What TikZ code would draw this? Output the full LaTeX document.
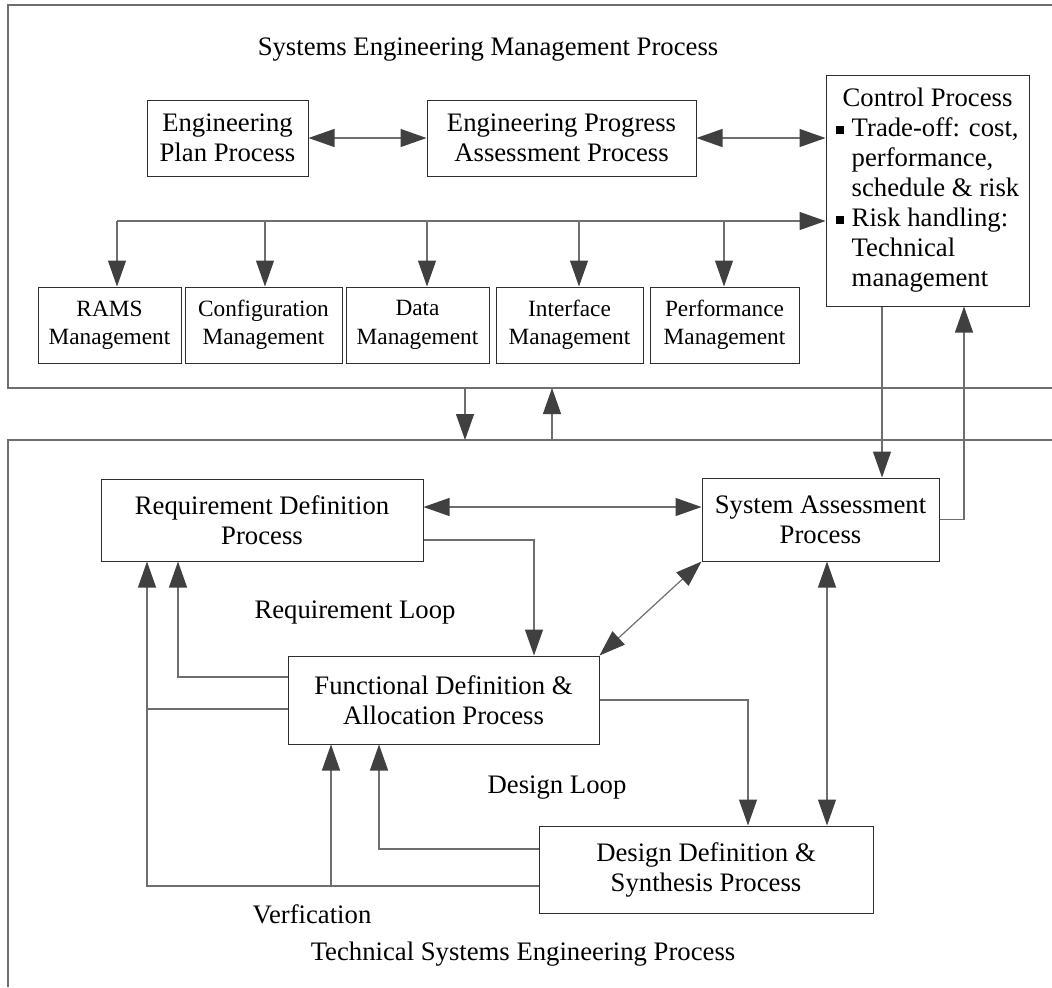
\documentclass[tikz,border=0pt]{standalone}
\usepackage{fontspec}
\setmainfont{Liberation Serif}
\usetikzlibrary{arrows.meta}
\definecolor{linec}{HTML}{6E6E6E}
\definecolor{boxc}{HTML}{2E2E2E}
\definecolor{arrc}{HTML}{404040}
\newcommand{\bulsq}{\raisebox{0.22ex}{\rule{0.3em}{0.3em}}}
\begin{document}
\begin{tikzpicture}[x=0.5pt,y=-0.5pt,
  every node/.style={font=\fontsize{13.35pt}{15pt}\selectfont},
  box/.style={draw=boxc, line width=0.5pt, inner sep=0pt, align=center},
  mgmt/.style={box, minimum height=38pt, font=\fontsize{11.65pt}{14.2pt}\selectfont},
  conn/.style={draw=linec, line width=0.6pt},
  frame/.style={draw=linec, line width=0.7pt},
  >={Triangle[length=13pt,width=9pt,color=arrc]}]
\useasboundingbox (0,0) rectangle (1052,987);

% two process frames, open to the right
\draw[frame] (1052,5) -- (8,5) -- (8,388) -- (1052,388);
\draw[frame] (1052,440) -- (8,440) -- (8,987);
\coordinate (mgmtB) at (8,388);
\coordinate (techT) at (8,440);

% management process boxes
\node[box, minimum width=80.5pt, minimum height=38pt] (epp) at (227.5,138) {Engineering\\Plan Process};
\node[box, minimum width=134.5pt, minimum height=38pt] (epa) at (561.5,138) {Engineering Progress\\Assessment Process};
\node[box, minimum width=101.5pt, minimum height=115.5pt] (ctrl) at (927.5,190.5) {%
  \begin{tabular}{@{}l@{\hspace{0.3em}}l@{}}
  \multicolumn{2}{@{}c@{}}{Control Process}\\
  \bulsq & Trade-off: cost,\\
         & performance,\\
         & schedule \& risk\\
  \bulsq & Risk handling:\\
         & Technical\\
         & management
  \end{tabular}};
\node[mgmt, minimum width=71.5pt] (rams) at (109.5,325) {RAMS\\Management};
\node[mgmt, minimum width=78.5pt] (conf) at (263.5,325) {Configuration\\Management};
\node[mgmt, minimum width=71.5pt] (data) at (417.5,325) {Data\\Management};
\node[mgmt, minimum width=73.5pt] (intf) at (569.5,325) {Interface\\Management};
\node[mgmt, minimum width=74.5pt] (perf) at (724.5,325) {Performance\\Management};

% technical process boxes
\node[box, minimum width=161pt, minimum height=41pt] (rd) at (262,520) {Requirement Definition\\Process};
\node[box, minimum width=118.5pt, minimum height=41.5pt] (sa) at (820.5,519.5) {System Assessment\\Process};
\node[box, minimum width=155.5pt, minimum height=44pt] (fd) at (443.5,700) {Functional Definition \&\\Allocation Process};
\node[box, minimum width=167pt, minimum height=43.5pt] (dd) at (706,869.5) {Design Definition \&\\Synthesis Process};

% labels
\node[anchor=base] (tmgmt) at (488,55) {Systems Engineering Management Process};
\node[anchor=base] (lreq) at (355,618) {Requirement Loop};
\node[anchor=base] (ldes) at (557,793) {Design Loop};
\node[anchor=base] (lver) at (312,923) {Verfication};
\node[anchor=base] (ttech) at (523,960) {Technical Systems Engineering Process};

% management connectors
\draw[conn,<->] (epp) -- (epa);
\draw[conn,<->] (epa.east) -- (epa.east -| ctrl.west);
\foreach \x/\n in {117/rams,265/conf,427/data,579/intf,724/perf}{
  \coordinate (d\n) at (\x,221);
  \draw[conn,->] (d\n) -- (d\n |- \n.north);
}
\draw[conn,->] (drams) -- (drams -| ctrl.west);

% between the frames
\coordinate (dn) at (465,388);
\coordinate (up) at (552,440);
\draw[conn,->] (dn) -- (dn |- techT);
\draw[conn,->] (up) -- (up |- mgmtB);

% control <-> system assessment
\coordinate (cs) at (882,0);
\coordinate (sc) at (964,0);
\draw[conn,->] (cs |- ctrl.south) -- (cs |- sa.north);
\draw[conn,->] (sa.east) -| (sc |- ctrl.south);

% technical connectors
\coordinate (rs) at (0,507);
\draw[conn,<->] (rs -| rd.east) -- (rs -| sa.west);
\coordinate (rf) at (534,540);
\draw[conn,->] (rf -| rd.east) -| (rf |- fd.north);
\draw[conn,<->] (fd.north east) -- (sa.south west);
\coordinate (sd) at (827,0);
\draw[conn,<->] (sd |- sa.south) -- (sd |- dd.north);
\coordinate (fdd) at (748,0);
\draw[conn,->] (fd.east) -| (fdd |- dd.north);

% requirement loop
\coordinate (rl) at (178,677);
\draw[conn,->] (rl -| fd.west) -| (rl |- rd.south);
% verification path
\coordinate (vl) at (147,886);
\draw[conn,->] (vl -| dd.west) -- (vl) -- (vl |- rd.south);
\coordinate (fv) at (147,709);
\draw[conn] (fv -| fd.west) -- (fv);
\coordinate (vb) at (331,886);
\draw[conn,->] (vb) -- (vb |- fd.south);
% design loop
\coordinate (dl) at (379,849);
\draw[conn,->] (dl -| dd.west) -| (dl |- fd.south);
\end{tikzpicture}
\end{document}
